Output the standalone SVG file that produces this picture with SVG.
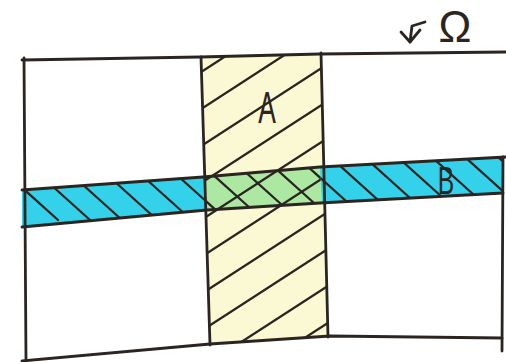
<svg xmlns="http://www.w3.org/2000/svg" width="506" height="362" viewBox="0 0 506 362">
  <style>
    .ink { fill: none; stroke: #2b2521; stroke-width: 2.8; stroke-linecap: round; stroke-linejoin: round; }
    .hatch { fill: none; stroke: #2b2521; stroke-width: 2.3; stroke-linecap: round; }
    .lbl { font-family: "Liberation Sans", "DejaVu Sans", sans-serif; fill: #2b2521; }
  </style>
  <defs>
    <clipPath id="clipA">
      <polygon points="201,57 321,53 328,337 210,345"/>
    </clipPath>
    <clipPath id="clipB">
      <polygon points="22,190 203,177 320,167 503,157 503,193 320,203 207,210 22,227"/>
    </clipPath>
    <clipPath id="clipAB">
      <polygon points="204,177 320,167 322,203 207,210"/>
    </clipPath>
    <g id="hatchA">
      <line x1="195" y1="76" x2="340" y2="-18"/>
      <line x1="195" y1="113" x2="340" y2="19"/>
      <line x1="195" y1="150" x2="340" y2="56"/>
      <line x1="195" y1="187" x2="340" y2="93"/>
      <line x1="195" y1="224" x2="340" y2="130"/>
      <line x1="195" y1="261" x2="340" y2="167"/>
      <line x1="195" y1="298" x2="340" y2="204"/>
      <line x1="195" y1="335" x2="340" y2="241"/>
      <line x1="195" y1="372" x2="340" y2="278"/>
      <line x1="195" y1="409" x2="340" y2="315"/>
    </g>
    <g id="hatchB">
      <line x1="8" y1="175" x2="58" y2="220"/>
      <line x1="40" y1="175" x2="90" y2="220"/>
      <line x1="72" y1="175" x2="122" y2="220"/>
      <line x1="104" y1="172" x2="154" y2="217"/>
      <line x1="136" y1="170" x2="186" y2="215"/>
      <line x1="168" y1="167" x2="218" y2="212"/>
      <line x1="200" y1="163" x2="250" y2="208"/>
      <line x1="232" y1="160" x2="282" y2="205"/>
      <line x1="264" y1="158" x2="314" y2="203"/>
      <line x1="296" y1="156" x2="346" y2="201"/>
      <line x1="328" y1="155" x2="378" y2="200"/>
      <line x1="360" y1="153" x2="410" y2="198"/>
      <line x1="392" y1="152" x2="442" y2="197"/>
      <line x1="424" y1="150" x2="474" y2="195"/>
      <line x1="456" y1="149" x2="506" y2="194"/>
      <line x1="488" y1="148" x2="538" y2="193"/>
    </g>
  </defs>
  <rect width="506" height="362" fill="#ffffff"/>

  <g id="setA">
    <polygon points="201,57 321,53 328,337 210,345" fill="#fbf8d4"/>
    <use href="#hatchA" class="hatch" clip-path="url(#clipA)"/>
    <text class="lbl" x="267" y="123" font-size="44" text-anchor="middle" transform="translate(267 0) scale(0.6 1) translate(-267 0)">A</text>
  </g>

  <g id="setB">
    <polygon points="22,190 203,177 320,167 503,157 503,193 320,203 207,210 22,227" fill="#33d2ea"/>
    <use href="#hatchB" class="hatch" clip-path="url(#clipB)"/>
    <text class="lbl" x="446" y="194" font-size="38" text-anchor="middle" transform="translate(446 0) scale(0.65 1) translate(-446 0)">B</text>
  </g>

  <g id="intersection">
    <polygon points="204,177 320,167 322,203 207,210" fill="#ade8a2"/>
    <g clip-path="url(#clipAB)" class="hatch">
      <use href="#hatchA"/>
      <use href="#hatchB"/>
    </g>
  </g>

  <g id="omega">
    <path class="ink" d="M22,60 L200,57 L320,54 L506,52"/>
    <path class="ink" d="M24,58 L26,362"/>
    <path class="ink" d="M22,361 L210,344 L330,336 L502,338"/>
    <path class="ink" d="M503,157 L502,351"/>
    <text class="lbl" x="455" y="42" font-size="44" text-anchor="middle">Ω</text>
  </g>

  <g id="edges" class="ink">
    <path d="M201,57 L210,345"/>
    <path d="M321,53 L328,337"/>
    <path d="M22,190 L203,177 L320,167 L506,157"/>
    <path d="M22,227 L207,210 L320,203 L503,193"/>
  </g>

  <g id="connectors" class="ink">
    <path d="M425,22 L412,26 L410,42"/>
    <path d="M401,32 L410,42 L420,30"/>
  </g>
</svg>
